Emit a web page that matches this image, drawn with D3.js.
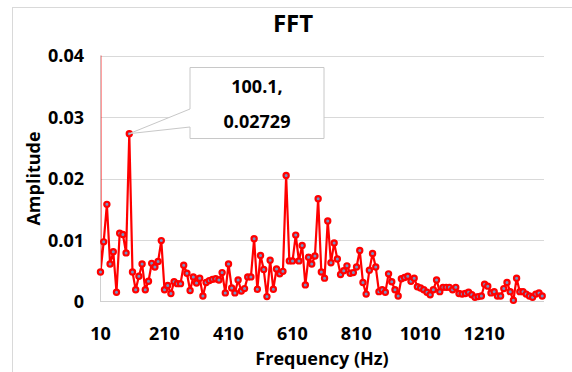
<!DOCTYPE html>
<html lang="en">
<head>
  <meta charset="UTF-8" />
  <title>FFT</title>
  <script src="https://d3js.org/d3.v7.min.js"></script>
  <style>
    html, body {
      margin: 0;
      padding: 0;
      width: 572px;
      height: 372px;
      overflow: hidden;
      background: #fff;
      font-family: "Open Sans", sans-serif;
    }
    svg { display: block; }
    text { font-weight: 700; fill: #000; }
  </style>
</head>
<body>
<svg width="572" height="372"></svg>

<script>
// frequency resolution of the FFT bins (Hz); bin 1 = 10.01 Hz, bin 10 = 100.1 Hz
const binStep = 10.01;
// DC bin, far above the axis max and clipped by the plot area
const dcAmplitude = 0.5;
// amplitudes of bins 1..139
const amplitudes = [
  0.0048, 0.0097, 0.0158, 0.0061, 0.0081, 0.0015, 0.0111, 0.0109, 0.0079, 0.02729,
  0.0048, 0.0019, 0.0041, 0.0061, 0.0019, 0.0033, 0.0062, 0.0056, 0.0065, 0.0099,
  0.0019, 0.0026, 0.0013, 0.0032, 0.0029, 0.0029, 0.0059, 0.0046, 0.0018, 0.0040,
  0.0030, 0.0038, 0.0009, 0.0031, 0.0034, 0.0036, 0.0037, 0.0035, 0.0047, 0.0014,
  0.0061, 0.0022, 0.0014, 0.0035, 0.0017, 0.0021, 0.0040, 0.0040, 0.0102, 0.0020,
  0.0075, 0.0052, 0.0008, 0.0067, 0.0020, 0.0053, 0.0045, 0.0049, 0.0205, 0.0066,
  0.0066, 0.0108, 0.0066, 0.0091, 0.0027, 0.0072, 0.0061, 0.0074, 0.0167, 0.0048,
  0.0038, 0.0131, 0.0063, 0.0095, 0.0069, 0.0044, 0.0050, 0.0058, 0.0046, 0.0047,
  0.0056, 0.0083, 0.0031, 0.0012, 0.0051, 0.0078, 0.0056, 0.0016, 0.0019, 0.0015,
  0.0045, 0.0032, 0.0019, 0.0009, 0.0037, 0.0039, 0.0041, 0.0033, 0.0038, 0.0024,
  0.0022, 0.0019, 0.0015, 0.0011, 0.0019, 0.0035, 0.0016, 0.0023, 0.0023, 0.0023,
  0.0019, 0.0023, 0.0013, 0.0012, 0.0013, 0.0015, 0.0011, 0.0007, 0.0008, 0.0009,
  0.0028, 0.0025, 0.0014, 0.0016, 0.0009, 0.0009, 0.0021, 0.0031, 0.0016, 0.0002,
  0.0038, 0.0016, 0.0016, 0.0012, 0.0009, 0.0007, 0.0012, 0.0014, 0.0009
];
const xTicks = [10, 210, 410, 610, 810, 1010, 1210];
const yTicks = [0, 0.01, 0.02, 0.03, 0.04];
const peak = { freq: 100.1, amp: 0.02729 };

const data = [{ f: 0, a: dcAmplitude }]
  .concat(amplitudes.map((a, i) => ({ f: (i + 1) * binStep, a })));

const svg = d3.select("svg");
const L = 100, R = 544, T = 55.5, B = 301.5;

const x = d3.scaleLinear().domain([8.5, 1397]).range([L, R]);
const y = d3.scaleLinear().domain([0, 0.04]).range([B, T]);

// outer chart border
svg.append("rect")
  .attr("x", 12.5).attr("y", 7.5)
  .attr("width", 600).attr("height", 400)
  .attr("fill", "none").attr("stroke", "#d9d9d9");

svg.append("text")
  .attr("x", 293).attr("y", 32)
  .attr("text-anchor", "middle")
  .style("font-size", "24px")
  .text("FFT");

// gridlines
svg.append("g")
  .selectAll("line")
  .data(yTicks.slice(1))
  .join("line")
  .attr("x1", L).attr("x2", R)
  .attr("y1", d => Math.round(y(d)) + 0.5).attr("y2", d => Math.round(y(d)) + 0.5)
  .attr("stroke", "#d9d9d9");

// axis lines
svg.append("line")
  .attr("x1", L).attr("x2", R).attr("y1", B).attr("y2", B)
  .attr("stroke", "#d0d0d0");
svg.append("line")
  .attr("x1", L + 0.5).attr("x2", L + 0.5).attr("y1", T).attr("y2", B)
  .attr("stroke", "#d0d0d0");

// tick labels
svg.append("g")
  .selectAll("text")
  .data(yTicks)
  .join("text")
  .attr("x", 84)
  .attr("y", d => y(d) + 6.5)
  .attr("text-anchor", "end")
  .style("font-size", "18px")
  .text(d => d === 0 ? "0" : d3.format(".2f")(d));

svg.append("g")
  .selectAll("text")
  .data(xTicks)
  .join("text")
  .attr("x", d => x(d))
  .attr("y", 340)
  .attr("text-anchor", "middle")
  .style("font-size", "18px")
  .text(d => d);

// axis titles
svg.append("text")
  .attr("x", (L + R) / 2).attr("y", 365)
  .attr("text-anchor", "middle")
  .style("font-size", "18px")
  .text("Frequency (Hz)");

svg.append("text")
  .attr("transform", `translate(40,${(T + B) / 2}) rotate(-90)`)
  .attr("text-anchor", "middle")
  .style("font-size", "18px")
  .text("Amplitude");

// plot clip for the line (DC bin runs off the top)
svg.append("clipPath").attr("id", "plot")
  .append("rect").attr("x", L + 0.9).attr("y", T).attr("width", R - L + 4).attr("height", B - T + 8);

svg.append("g").attr("clip-path", "url(#plot)")
  .append("path")
  .datum(data)
  .attr("fill", "none")
  .attr("stroke", "#ff0000")
  .attr("stroke-width", 2.2)
  .attr("stroke-linejoin", "round")
  .attr("d", d3.line().x(d => x(d.f)).y(d => y(d.a)));

svg.append("g")
  .selectAll("circle")
  .data(data.slice(1))
  .join("circle")
  .attr("cx", d => x(d.f))
  .attr("cy", d => y(d.a))
  .attr("r", 2.6)
  .attr("fill", "#7393c4")
  .attr("stroke", "#ff0000")
  .attr("stroke-width", 2.2);

// data callout
const px = x(peak.freq), py = y(peak.amp);
const bx0 = 190, bx1 = 324, by0 = 67.5, by1 = 138.5;
svg.append("path")
  .attr("d", `M${bx0},${by0}H${bx1}V${by1}H${bx0}V127L${px},${py}L${bx0},109Z`)
  .attr("fill", "#fff")
  .attr("stroke", "#c8c8c8");

svg.append("text")
  .attr("x", (bx0 + bx1) / 2).attr("y", 93)
  .attr("text-anchor", "middle")
  .style("font-size", "18px")
  .text(`${peak.freq},`);
svg.append("text")
  .attr("x", (bx0 + bx1) / 2).attr("y", 128)
  .attr("text-anchor", "middle")
  .style("font-size", "18px")
  .text(peak.amp);
</script>
</body>
</html>
